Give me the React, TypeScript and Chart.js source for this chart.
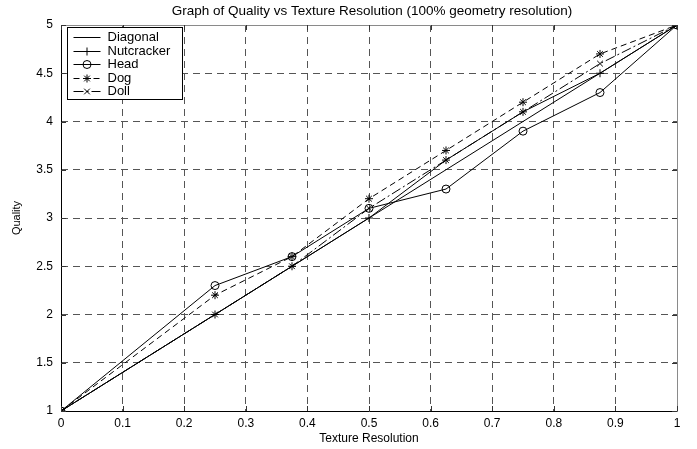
import React, { useEffect, useRef } from 'react';
import { Chart, registerables } from 'chart.js';

Chart.register(...registerables);

const titleText = 'Graph of Quality vs Texture Resolution (100% geometry resolution)';
const xAxisTitle = 'Texture Resolution';
const yAxisTitle = 'Quality';

const xValues = [0, 0.25, 0.375, 0.5, 0.625, 0.75, 0.875, 1];
const diagonalValues = [1, 2, 2.5, 3, 3.5, 4, 4.5, 5];
const nutcrackerValues = [1, 2.0, 2.5, 3.0, 3.6, 4.1, 4.5, 5];
const headValues = [1, 2.3, 2.6, 3.1, 3.3, 3.9, 4.3, 5];
const dogValues = [1, 2.2, 2.6, 3.2, 3.7, 4.2, 4.7, 5];
const dollValues = [1, 2.0, 2.5, 3.1, 3.6, 4.1, 4.6, 5];

const seriesNames = ['Diagonal', 'Nutcracker', 'Head', 'Dog', 'Doll'];

const xTicks = [0, 0.1, 0.2, 0.3, 0.4, 0.5, 0.6, 0.7, 0.8, 0.9, 1];
const xTickLabels = ['0', '0.1', '0.2', '0.3', '0.4', '0.5', '0.6', '0.7', '0.8', '0.9', '1'];
const yTicks = [1, 1.5, 2, 2.5, 3, 3.5, 4, 4.5, 5];
const yTickLabels = ['1', '1.5', '2', '2.5', '3', '3.5', '4', '4.5', '5'];

const FONT = '"Liberation Sans", Arial, Helvetica, sans-serif';

function toPoints(ys: number[]) {
  return xValues.map((x, i) => ({ x, y: ys[i] }));
}

function drawMarker(ctx: CanvasRenderingContext2D, style: string, x: number, y: number, r: number) {
  ctx.save();
  ctx.setLineDash([]);
  ctx.beginPath();
  if (style === 'circle') {
    ctx.arc(x, y, r, 0, Math.PI * 2);
  }
  if (style === 'cross' || style === 'star') {
    ctx.moveTo(x - r, y);
    ctx.lineTo(x + r, y);
    ctx.moveTo(x, y - r);
    ctx.lineTo(x, y + r);
  }
  if (style === 'crossRot' || style === 'star') {
    const d = r * 0.7071;
    ctx.moveTo(x - d, y - d);
    ctx.lineTo(x + d, y + d);
    ctx.moveTo(x - d, y + d);
    ctx.lineTo(x + d, y - d);
  }
  ctx.stroke();
  ctx.restore();
}

const titlePlugin = {
  id: 'plotTitle',
  afterDraw(chart: any) {
    const { ctx, chartArea } = chart;
    ctx.save();
    ctx.font = `13.5px ${FONT}`;
    ctx.fillStyle = '#000';
    ctx.textAlign = 'center';
    ctx.textBaseline = 'middle';
    ctx.fillText(titleText, (chartArea.left + chartArea.right) / 2 + 3, 11);
    ctx.restore();
  },
};

const framePlugin = {
  id: 'frame',
  afterDatasetsDraw(chart: any) {
    const { ctx, chartArea } = chart;
    const { left, right, top, bottom } = chartArea;
    const xs = chart.scales.x;
    const ys = chart.scales.y;
    ctx.save();
    ctx.setLineDash([]);
    ctx.lineWidth = 1;
    ctx.strokeStyle = '#8a8a8a';
    ctx.beginPath();
    ctx.moveTo(left, top + 0.5);
    ctx.lineTo(right + 0.5, top + 0.5);
    ctx.lineTo(right + 0.5, bottom);
    ctx.stroke();
    ctx.strokeStyle = '#000';
    ctx.beginPath();
    ctx.moveTo(left + 0.5, top);
    ctx.lineTo(left + 0.5, bottom + 0.5);
    ctx.lineTo(right + 0.5, bottom + 0.5);
    ctx.stroke();
    ctx.strokeStyle = '#333';
    ctx.beginPath();
    xTicks.forEach((v) => {
      const px = Math.round(xs.getPixelForValue(v)) + 0.5;
      ctx.moveTo(px, bottom);
      ctx.lineTo(px, bottom - 5);
      ctx.moveTo(px, top);
      ctx.lineTo(px, top + 5);
    });
    yTicks.forEach((v) => {
      const py = Math.round(ys.getPixelForValue(v)) + 0.5;
      ctx.moveTo(left, py);
      ctx.lineTo(left + 5, py);
      ctx.moveTo(right, py);
      ctx.lineTo(right - 5, py);
    });
    ctx.stroke();
    ctx.restore();
  },
};

const legendPlugin = {
  id: 'boxLegend',
  afterDraw(chart: any) {
    const { ctx, chartArea } = chart;
    const bx = chartArea.left + 6.5;
    const by = chartArea.top + 2.5;
    const bw = 115;
    const bh = 72;
    ctx.save();
    ctx.fillStyle = '#fff';
    ctx.fillRect(bx, by, bw, bh);
    ctx.strokeStyle = '#000';
    ctx.lineWidth = 1;
    ctx.setLineDash([]);
    ctx.strokeRect(bx, by, bw, bh);
    ctx.font = `13px ${FONT}`;
    ctx.textBaseline = 'middle';
    ctx.fillStyle = '#000';
    chart.data.datasets.forEach((ds: any, i: number) => {
      const y = Math.round(by + 9.5 + i * 13.6) + 0.5;
      const x0 = bx + 6;
      const x1 = bx + 33;
      ctx.strokeStyle = '#000';
      ctx.lineWidth = 1;
      ctx.setLineDash(ds.borderDash || []);
      ctx.beginPath();
      ctx.moveTo(x0, y);
      ctx.lineTo(x1, y);
      ctx.stroke();
      if (ds.pointRadius > 0) {
        drawMarker(ctx, ds.pointStyle, (x0 + x1) / 2, y, 4);
      }
      ctx.fillText(ds.label, bx + 40, y);
    });
    ctx.restore();
  },
};

export default function App() {
  const canvasRef = useRef<HTMLCanvasElement | null>(null);

  useEffect(() => {
    document.body.style.margin = '0';
    const canvas = canvasRef.current;
    if (!canvas) return;
    Chart.defaults.font.family = FONT;
    Chart.defaults.color = '#000';

    const common = {
      borderColor: '#000',
      borderWidth: 1,
      backgroundColor: 'transparent',
      pointBorderColor: '#000',
      pointBackgroundColor: 'transparent',
      pointBorderWidth: 1,
      showLine: true,
      fill: false,
      tension: 0,
    };

    const chart = new Chart(canvas, {
      type: 'scatter',
      data: {
        datasets: [
          { ...common, label: seriesNames[0], data: toPoints(diagonalValues), pointRadius: 0, pointStyle: 'line', borderDash: [] },
          { ...common, label: seriesNames[1], data: toPoints(nutcrackerValues), pointRadius: 4, pointStyle: 'cross', borderDash: [] },
          { ...common, label: seriesNames[2], data: toPoints(headValues), pointRadius: 4, pointStyle: 'circle', borderDash: [] },
          { ...common, label: seriesNames[3], data: toPoints(dogValues), pointRadius: 4, pointStyle: 'star', borderDash: [6, 4] },
          { ...common, label: seriesNames[4], data: toPoints(dollValues), pointRadius: 4, pointStyle: 'crossRot', borderDash: [10, 3, 2, 3] },
        ],
      } as any,
      options: {
        animation: false,
        responsive: false,
        maintainAspectRatio: false,
        layout: { padding: { left: 0, right: 20, top: 25, bottom: 0 } },
        plugins: {
          legend: { display: false },
          tooltip: { enabled: false },
          title: { display: false },
        },
        scales: {
          x: {
            type: 'linear',
            min: 0,
            max: 1,
            afterFit: (s: any) => { s.height = 38; },
            afterBuildTicks: (s: any) => { s.ticks = xTicks.map((v) => ({ value: v })); },
            ticks: {
              padding: 5,
              color: '#000',
              font: { size: 12, family: FONT },
              maxRotation: 0,
              autoSkip: false,
              callback: (v: any) => { const i = xTicks.indexOf(Number(v)); return i >= 0 ? xTickLabels[i] : ''; },
            },
            grid: { color: '#555', lineWidth: 1, drawTicks: false },
            border: { display: false, dash: [7, 5] },
            title: { display: true, text: xAxisTitle, color: '#000', font: { size: 12, family: FONT }, padding: { top: 0, bottom: 3 } },
          },
          y: {
            type: 'linear',
            min: 1,
            max: 5,
            afterFit: (s: any) => { s.width = 61; },
            afterBuildTicks: (s: any) => { s.ticks = yTicks.map((v) => ({ value: v })); },
            ticks: {
              padding: 8,
              color: '#000',
              font: { size: 12, family: FONT },
              autoSkip: false,
              callback: (v: any) => { const i = yTicks.indexOf(Number(v)); return i >= 0 ? yTickLabels[i] : ''; },
            },
            grid: { color: '#555', lineWidth: 1, drawTicks: false },
            border: { display: false, dash: [7, 5] },
            title: { display: true, text: yAxisTitle, color: '#000', font: { size: 11, family: FONT }, padding: { top: 10, bottom: 0 } },
          },
        },
      } as any,
      plugins: [framePlugin, legendPlugin, titlePlugin],
    });

    return () => chart.destroy();
  }, []);

  return (
    <div style={{ width: 697, height: 449 }}>
      <canvas ref={canvasRef} width={697} height={449} style={{ display: 'block', width: 697, height: 449 }} />
    </div>
  );
}
